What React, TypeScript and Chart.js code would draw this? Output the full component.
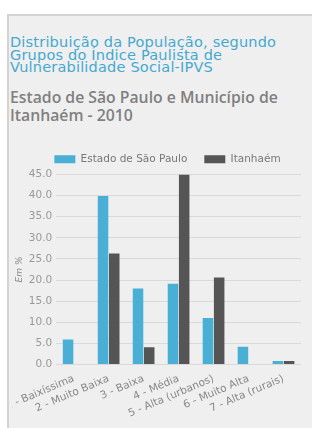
import React, { useEffect, useRef } from "react";
import { Chart, registerables } from "chart.js";

Chart.register(...registerables);

const categories = [
  "1 - Baixíssima",
  "2 - Muito Baixa",
  "3 - Baixa",
  "4 - Média",
  "5 - Alta (urbanos)",
  "6 - Muito Alta",
  "7 - Alta (rurais)",
];
const estadoSP = [5.9, 39.9, 18.0, 19.1, 11.0, 4.2, 0.8];
const itanhaem = [0, 26.3, 4.1, 45.0, 20.6, 0, 0.8];
const seriesNames = ["Estado de São Paulo", "Itanhaém"];
const yTitle = "Em %";

const FONT = "'DejaVu Sans', Verdana, sans-serif";

const legendShift = {
  id: "legendShift",
  afterLayout(chart: any) {
    const l = chart.legend;
    if (l) {
      l.left += 10;
      l.right += 10;
    }
  },
};

export default function App() {
  const ref = useRef<HTMLCanvasElement | null>(null);
  useEffect(() => {
    const ctx = ref.current!;
    const chart = new Chart(ctx, {
      type: "bar",
      data: {
        labels: categories,
        datasets: [
          {
            label: seriesNames[0],
            data: estadoSP,
            backgroundColor: "#49afd5",
            categoryPercentage: 0.64,
            barPercentage: 0.94,
          },
          {
            label: seriesNames[1],
            data: itanhaem,
            backgroundColor: "#555555",
            categoryPercentage: 0.64,
            barPercentage: 0.94,
          },
        ],
      },
      plugins: [legendShift],
      options: {
        animation: false,
        responsive: false,
        maintainAspectRatio: false,
        layout: { padding: { left: 2, right: 11, top: 0, bottom: 0 } },
        plugins: {
          legend: {
            display: true,
            labels: {
              boxWidth: 21,
              boxHeight: 8,
              padding: 17,
              color: "#777",
              font: { family: FONT, size: 10.5 },
            },
          },
          tooltip: { enabled: false },
        },
        scales: {
          x: {
            grid: { display: false },
            border: { display: false },
            afterFit: (scale: any) => {
              scale.paddingLeft = 0;
            },
            ticks: {
              color: "#888",
              font: { family: FONT, size: 10.5 },
              maxRotation: 23,
              minRotation: 23,
              autoSkip: false,
              padding: 0,
            },
          },
          y: {
            min: 0,
            max: 45,
            border: { display: false },
            grid: { color: "#d9d9d9", drawTicks: false },
            ticks: {
              stepSize: 5,
              color: "#999",
              padding: 4,
              font: { family: FONT, size: 10.5 },
              callback: (v: any) => Number(v).toFixed(1),
            },
            title: {
              display: true,
              text: yTitle,
              color: "#888",
              padding: 0,
              font: { family: FONT, size: 9, style: "italic" },
            },
          },
        },
      },
    });
    return () => chart.destroy();
  }, []);

  return (
    <div style={{ position: "absolute", left: 0, top: 0, width: 312, height: 428, background: "#fff", overflow: "hidden" }}>
      <div
        style={{
          position: "absolute",
          left: 7,
          top: 14,
          width: 320,
          height: 430,
          background: "#efefef",
          borderTop: "2px solid #d3d3d3",
          borderLeft: "2px solid #d3d3d3",
        }}
      />
      <div
        style={{
          position: "absolute",
          left: 10,
          top: 36,
          width: 302,
          whiteSpace: "nowrap",
          fontFamily: FONT,
          fontSize: 14.5,
          letterSpacing: "0.2px",
          lineHeight: "12.5px",
          color: "#45a9cf",
        }}
      >
        Distribuição da População, segundo
        <br />
        Grupos do Índice Paulista de
        <br />
        Vulnerabilidade Social-IPVS
      </div>
      <div
        style={{
          position: "absolute",
          left: 10,
          top: 88,
          width: 302,
          whiteSpace: "nowrap",
          fontFamily: "'Open Sans', 'DejaVu Sans', sans-serif",
          fontSize: 15.75,
          lineHeight: "18px",
          color: "#808080",
          fontWeight: 600,
        }}
      >
        Estado de São Paulo e Município de
        <br />
        Itanhaém - 2010
      </div>
      <div style={{ position: "absolute", left: 12, top: 137, width: 300, height: 283 }}>
        <canvas ref={ref} width={300} height={283} style={{ display: "block" }} />
      </div>
    </div>
  );
}
